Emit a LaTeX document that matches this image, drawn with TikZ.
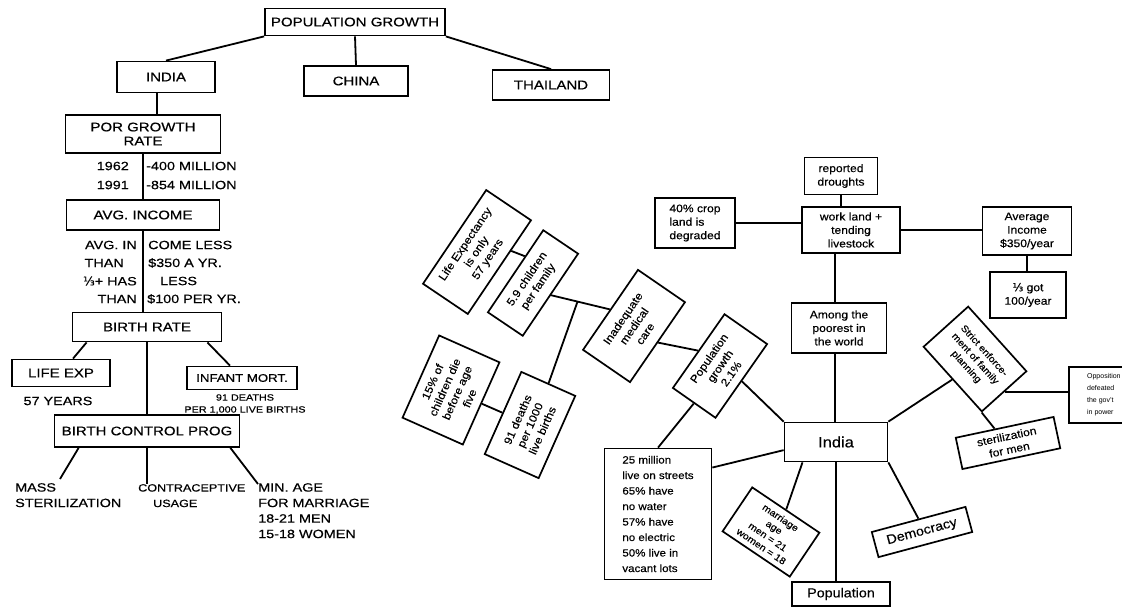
\documentclass[tikz,border=0pt]{standalone}
\usepackage{fontspec}
\setmainfont{Liberation Sans}
\newfontfamily\capfont[FakeStretch=1.2,FakeBold=0.5]{Liberation Sans}
\newfontfamily\handfont[FakeStretch=1.1,FakeBold=0.4]{Liberation Sans}
\newfontfamily\symfont[FakeBold=0.5]{DejaVu Sans}
\usetikzlibrary{calc}
\begin{document}
\begin{tikzpicture}[x=1pt,y=-1pt,
  ln/.style={line width=1.8pt},
  cbox/.style={draw,line width=1.8pt,inner sep=0pt,align=center,font=\capfont\fontsize{12.5}{14}\selectfont},
  ctext/.style={inner sep=0pt,font=\capfont\fontsize{12}{15.5}\selectfont},
  stext/.style={inner sep=0pt,font=\capfont\fontsize{9}{12}\selectfont},
  hbox/.style={draw,line width=1.7pt,inner sep=0pt,align=center,font=\handfont\fontsize{11}{13.5}\selectfont},
]
\useasboundingbox (0,0) rectangle (1122,608);
% ---------------- left tree ----------------
\node[cbox,minimum width=180,minimum height=27] (pg) at (355,22) {POPULATION GROWTH};
\node[cbox,minimum width=98,minimum height=31] (india) at (166,77) {INDIA};
\node[cbox,minimum width=104,minimum height=30] (china) at (356,81) {CHINA};
\node[cbox,minimum width=117,minimum height=30] (thai) at (551,85) {THAILAND};
\draw[ln] (pg.south west) -- (india.north);
\draw[ln] (pg.south) -- (china.north);
\draw[ln] (pg.south east) -- (thai.north);
\node[cbox,minimum width=155,minimum height=38] (por) at (143,134) {POR GROWTH\\RATE};
\coordinate (v1) at (157,0);
\draw[ln] (india.south -| v1) -- (por.north -| v1);
\node[cbox,minimum width=153,minimum height=30] (avg) at (143,215) {AVG. INCOME};
\draw[ln] (por.south) -- (avg.north);
\node[ctext,anchor=east] (y62) at (129,166) {1962};
\node[ctext,anchor=east] (y91) at (129,185) {1991};
\node[ctext,anchor=west] (m62) at (146,166) {-400 MILLION};
\node[ctext,anchor=west] (m91) at (146,185) {-854 MILLION};
\node[cbox,minimum width=149,minimum height=29] (birth) at (147,327) {BIRTH RATE};
\draw[ln] (avg.south) -- (avg.south |- birth.north);
\node[ctext,anchor=east] (a1) at (137,245) {AVG. IN};
\node[ctext,anchor=west] (b1) at (148,245) {COME LESS};
\node[ctext,anchor=east] (a2) at (124,263) {THAN};
\node[ctext,anchor=west] (b2) at (148,263) {\$350 A YR.};
\node[ctext,anchor=east] (a3) at (137,281) {{\symfont ⅓}+ HAS};
\node[ctext,anchor=west] (b3) at (160,281) {LESS};
\node[ctext,anchor=east] (a4) at (137,299) {THAN};
\node[ctext,anchor=west] (b4) at (147,299) {\$100 PER YR.};
\node[cbox,minimum width=98,minimum height=27] (life) at (61,373) {LIFE EXP};
\node[cbox,minimum width=110,minimum height=23,font=\capfont\fontsize{11}{13}\selectfont] (inf) at (242,378) {INFANT MORT.};
\node[cbox,minimum width=185,minimum height=32] (bcp) at (147,431) {BIRTH CONTROL PROG};
\draw[ln] ($(birth.south west)+(15,0)$) -- ($(life.north)+(12,0)$);
\draw[ln] ($(birth.south east)+(-15,0)$) -- ($(inf.north)+(-12,0)$);
\draw[ln] (birth.south) -- (bcp.north);
\node[ctext] (yrs) at (58,401) {57 YEARS};
\node[stext,align=center] (deaths) at (245,404) {91 DEATHS\\PER 1,000 LIVE BIRTHS};
\node[ctext,align=left,anchor=north west] (mass) at (15,483) {MASS\\STERILIZATION};
\node[ctext,align=left,anchor=north west,font=\capfont\fontsize{10.5}{15.5}\selectfont] (contra) at (138,484) {CONTRACEPTIVE\\\hspace*{15pt}USAGE};
\node[ctext,align=left,anchor=north west] (minage) at (258,483) {MIN. AGE\\FOR MARRIAGE\\18-21 MEN\\15-18 WOMEN};
\draw[ln] ($(bcp.south west)+(25,0)$) -- ($(mass.north west)+(45,-4)$);
\draw[ln] (bcp.south) -- (bcp.south |- contra.north);
\draw[ln] ($(bcp.south east)+(-10,0)$) -- ($(minage.north west)+(0,1)$);
% ---------------- right map ----------------
\node[hbox,minimum width=73,minimum height=37] (rep) at (841,176) {reported\\droughts};
\node[hbox,minimum width=98,minimum height=46] (work) at (851,230) {work land +\\tending\\livestock};
\node[hbox,minimum width=80,minimum height=50,align=left] (crop) at (695,223) {40\% crop\\land is\\degraded};
\node[hbox,minimum width=89,minimum height=48] (avinc) at (1027,231) {Average\\Income\\\$350/year};
\node[hbox,minimum width=76,minimum height=46] (ks) at (1028,295) {{\symfont ⅓} got\\100/year};
\node[hbox,minimum width=95,minimum height=50] (among) at (839,328) {Among the\\poorest in\\the world};
\node[hbox,minimum width=103,minimum height=39,font=\handfont\fontsize{15}{16}\selectfont] (indR) at (836,442) {India};
\node[hbox,minimum width=107,minimum height=131,align=left,font=\handfont\fontsize{10.5}{15.5}\selectfont] (mill) at (658,514) {25 million\\live on streets\\65\% have\\no water\\57\% have\\no electric\\50\% live in\\vacant lots};
\node[hbox,minimum width=81,minimum height=53,rotate=-34,font=\handfont\fontsize{9.5}{11.5}\selectfont] (marr) at (771,532) {marriage\\age\\men = 21\\women = 18};
\node[hbox,minimum width=98,minimum height=24,font=\handfont\fontsize{13}{14}\selectfont] (popn) at (841,594) {Population};
\node[hbox,minimum width=97,minimum height=26,rotate=15,font=\handfont\fontsize{13}{14}\selectfont] (dem) at (922,532) {Democracy};
\node[hbox,minimum width=87,minimum height=60,rotate=-48,font=\handfont\fontsize{9.5}{12}\selectfont] (div) at (975,359) {Strict enforce-\\ment of family\\planning};
\node[hbox,minimum width=100,minimum height=32,rotate=12] (ident) at (1008,443) {sterilization\\for men};
\node[hbox,minimum width=70,minimum height=56,anchor=west,align=left,font=\rmfamily\fontsize{7}{12}\selectfont] (opp) at (1068,395) {Opposition\\defeated\\the gov't\\in power};
\node[hbox,minimum width=90,minimum height=52,rotate=55] (popg) at (720,366) {Population\\growth\\2.1\%};
\node[hbox,minimum width=97,minimum height=57,rotate=55.5] (imp) at (634,326) {Inadequate\\medical\\care};
\node[hbox,minimum width=113,minimum height=54,rotate=56] (lifeR) at (477,252) {Life Expectancy\\is only\\57 years};
\node[hbox,minimum width=99,minimum height=42,rotate=56] (five) at (533,283) {5.9 children\\per family};
\node[hbox,minimum width=90,minimum height=66,rotate=66] (pct) at (451,390) {15\% of\\children die\\before age\\five};
\node[hbox,minimum width=90,minimum height=59,rotate=66] (dths) at (530,425) {91 deaths\\per 1000\\live births};
% connectors right
\draw[ln] (rep.south) -- (rep.south |- work.north);
\draw[ln] (crop.east) -- (crop.east -| work.west);
\draw[ln] (work.east) -- (work.east -| avinc.west);
\draw[ln] (avinc.south) -- (avinc.south |- ks.north);
\coordinate (v2) at (835,0);
\draw[ln] (work.south -| v2) -- (among.north -| v2);
\draw[ln] (among.south -| v2) -- (indR.north -| v2);
\draw[ln] (popg.south) -- (indR.north west);
\draw[ln] (popg.west) -- (mill.north);
\draw[ln] (imp.south) -- (popg.north);
\draw[ln] (imp.north) -- (five.south);
\draw[ln] ($(imp.north)!0.55!(five.south)$) -- (dths.east);
\draw[ln] ($(lifeR.south)!0.35!(lifeR.south east)$) -- ($(five.north)!0.35!(five.north east)$);
\draw[ln] (pct.south) -- (dths.north);
\draw[ln] ($(indR.north west)!0.7!(indR.south west)$) -- ($(mill.north east)!0.15!(mill.south east)$);
\draw[ln] ($(indR.south west)!0.18!(indR.south east)$) -- (marr.north);
\draw[ln] (indR.south) -- (indR.south |- popn.north);
\draw[ln] (indR.south east) -- (dem.north);
\draw[ln] (div.south) -- (indR.north east);
\draw[ln] (div.east) -- (div.east -| opp.west);
\draw[ln] (div.south east) -- ($(ident.north west)!0.4!(ident.north east)$);
\end{tikzpicture}
\end{document}
